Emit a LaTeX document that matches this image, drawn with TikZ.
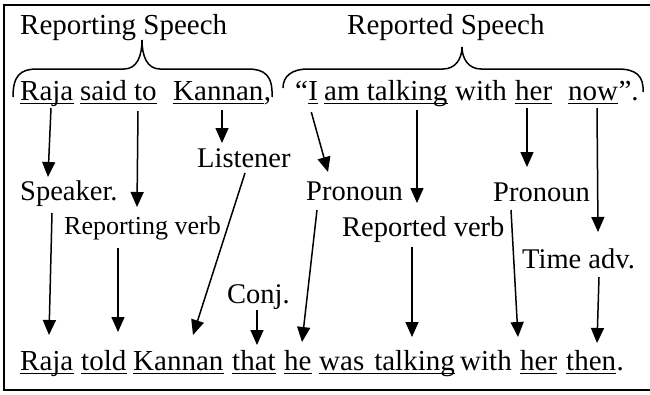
\documentclass[tikz,border=0pt]{standalone}
\usepackage{fontspec}
\setmainfont{Liberation Serif}
\usetikzlibrary{arrows.meta}
\begin{document}
\begin{tikzpicture}[x=1pt,y=1pt,
  wd/.style={anchor=base west, inner sep=0pt, font=\fontsize{29}{34}\selectfont},
  lab/.style={anchor=base west, inner sep=0pt, font=\fontsize{28.5}{34}\selectfont},
  small/.style={anchor=base west, inner sep=0pt, font=\fontsize{26}{30}\selectfont},
  arr/.style={line width=1.5pt, -{Triangle[length=15pt,width=13pt]}},
  ul/.style={line width=1.5pt},
  brace/.style={line width=1.5pt},
  frame/.style={line width=1.8pt}]
\useasboundingbox (0,0) rectangle (650,-394);
% frame
\draw[frame] (652,-5) -- (4,-5) -- (4,-390) -- (652,-390);
% titles
\node[wd] (t1) at (20,-34) {Reporting Speech};
\node[wd] (t2) at (347,-34) {Reported Speech};
% braces
\draw[brace] (13,-97) .. controls (13,-76) and (20,-69) .. (37,-69) -- (124,-69)
  .. controls (137,-69) and (142,-56) .. (142,-40)
  .. controls (142,-56) and (147,-69) .. (160,-69) -- (248,-69)
  .. controls (265,-69) and (273,-76) .. (272,-97);
\draw[brace] (283,-88) .. controls (283,-76) and (292,-69) .. (308,-69) -- (443,-69)
  .. controls (456,-69) and (462,-58) .. (462,-47)
  .. controls (462,-58) and (468,-69) .. (481,-69) -- (618,-69)
  .. controls (636,-69) and (644,-76) .. (643,-92);
% row 2
\node[wd] (r2raja) at (20,-100) {Raja};
\node[wd] (r2said) at (80,-100) {said to};
\node[wd] (r2kan) at (173,-100) {Kannan};
\node[wd] (r2comma) at (r2kan.base east) {,};
\node[wd] (r2q) at (295,-100) {“};
\node[wd] (r2I) at (r2q.base east) {I};
\node[wd] (r2am) at (324,-100) {am talking};
\node[wd] (r2with) at (455,-100) {with};
\node[wd] (r2her) at (515,-100) {her};
\node[wd] (r2now) at (568,-100) {now};
\node[wd] (r2end) at (r2now.base east) {”.};
% labels
\node[lab] (speaker) at (20,-200) {Speaker.};
\node[lab] (listener) at (197,-167) {Listener};
\node[lab] (pron1) at (306,-200) {Pronoun};
\node[lab] (pron2) at (493,-201) {Pronoun};
\node[small] (repverb) at (64,-234) {Reporting verb};
\node[lab] (reptdverb) at (342,-236) {Reported verb};
\node[lab] (timeadv) at (522,-268) {Time adv.};
\node[lab] (conj) at (227,-303) {Conj.};
% bottom row
\node[wd] (braja) at (20,-370) {Raja};
\node[wd] (btold) at (81,-370) {told};
\node[wd] (bkan) at (133,-370) {Kannan};
\node[wd] (bthat) at (232,-370) {that};
\node[wd] (bhe) at (284,-370) {he};
\node[wd] (bwas) at (319,-370) {was\hspace{10pt}talking};
\node[wd] (bwith) at (460,-370) {with};
\node[wd] (bher) at (520,-370) {her};
\node[wd] (bthen) at (566,-370) {then};
\node[wd] (bdot) at (bthen.base east) {.};
% underlines
\foreach \n in {r2raja,r2said,r2kan,r2I,r2am,r2her,r2now,braja,btold,bkan,bthat,bhe,bwas,bher,bthen}
  \draw[ul] ([yshift=-3.5pt]\n.base west) -- ([yshift=-3.5pt]\n.base east);
% arrows
\draw[arr] ([shift={(31,-8)}]r2raja.base west) -- ([shift={(28,23)}]speaker.base west);
\draw[arr] ([shift={(58,-11)}]r2said.base west) -- ([shift={(73,27)}]repverb.base west);
\draw[arr] ([shift={(49,-10)}]r2kan.base west) -- ([shift={(25,24)}]listener.base west);
\draw[arr] ([shift={(3,-12)}]r2I.base west) -- ([shift={(22,28)}]pron1.base west);
\draw[arr] ([shift={(93,-10)}]r2am.base west) -- ([shift={(75,33)}]reptdverb.base west);
\draw[arr] ([shift={(12,-8)}]r2her.base west) -- ([shift={(34,34)}]pron2.base west);
\draw[arr] ([shift={(29,-8)}]r2now.base west) -- ([shift={(76,36)}]timeadv.base west);
\draw[arr] ([shift={(32,-13)}]speaker.base west) -- ([shift={(29,35)}]braja.base west);
\draw[arr] ([shift={(54,-14)}]repverb.base west) -- ([shift={(37,38)}]btold.base west);
\draw[arr] ([shift={(48,-6)}]listener.base west) -- ([shift={(60,35)}]bkan.base west);
\draw[arr] ([shift={(30,-7)}]conj.base west) -- ([shift={(25,25)}]bthat.base west);
\draw[arr] ([shift={(11,-10)}]pron1.base west) -- ([shift={(18,28)}]bhe.base west);
\draw[arr] ([shift={(70,-11)}]reptdverb.base west) -- ([shift={(93,33)}]bwas.base west);
\draw[arr] ([shift={(18,-9)}]pron2.base west) -- ([shift={(-2,33)}]bher.base west);
\draw[arr] ([shift={(77,-9)}]timeadv.base west) -- ([shift={(31,27)}]bthen.base west);
\end{tikzpicture}
\end{document}
